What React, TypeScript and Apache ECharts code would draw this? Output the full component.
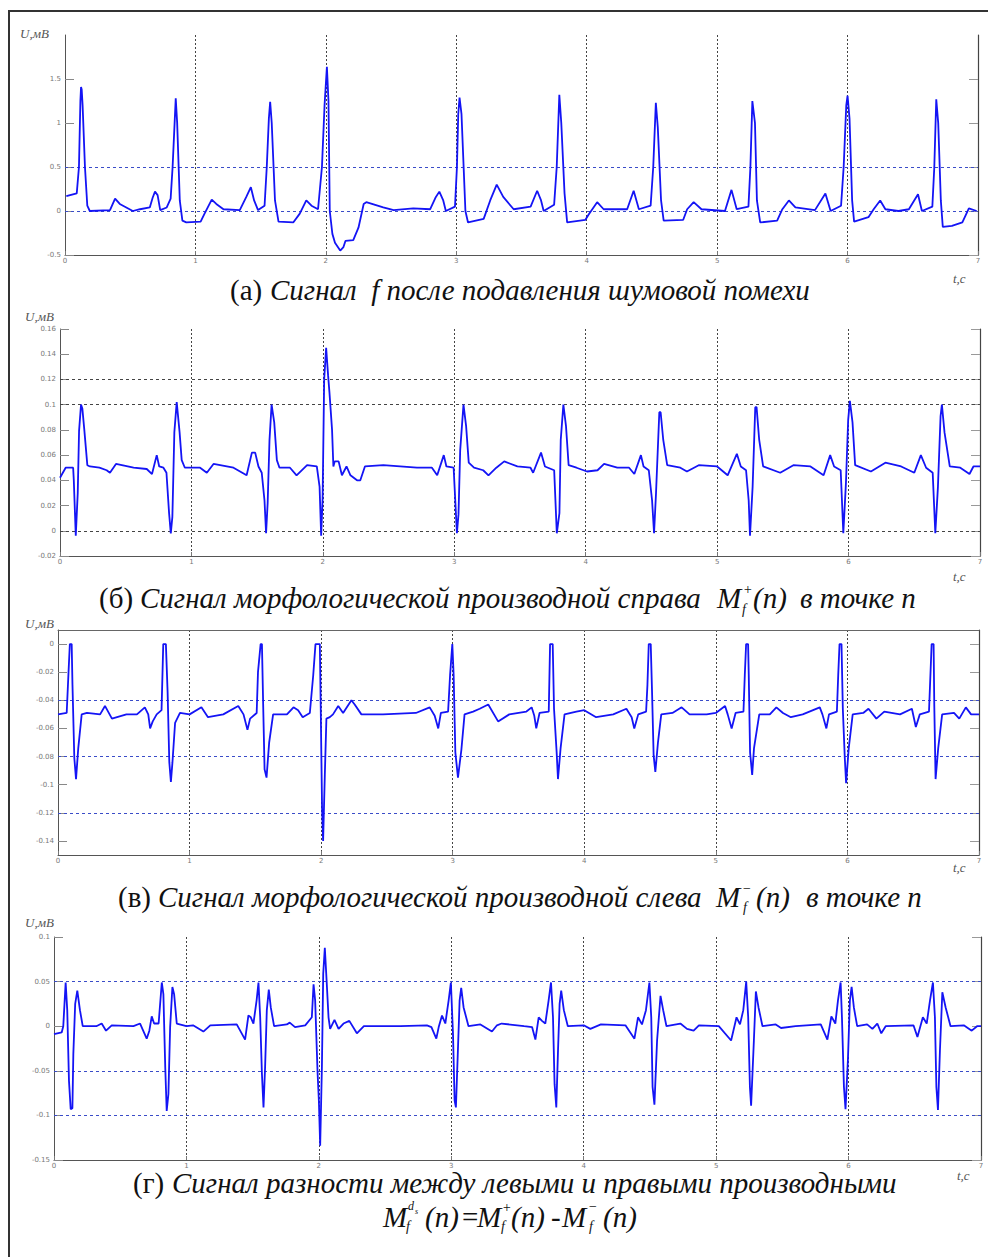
import React, { useEffect, useRef } from "react";
import * as echarts from "echarts";

// ---------- DATA ----------
const xTicks = [0, 1, 2, 3, 4, 5, 6, 7];

// (а) signal f after noise suppression, mV
const sigF: number[][] = [
  [0.01,0.17],[0.09,0.2],[0.107,0.5],[0.118,1.25],[0.123,1.41],[0.128,1.38],[0.135,1.2],[0.153,0.5],[0.171,0.06],[0.19,0.0],
  [0.345,0.01],[0.384,0.14],[0.42,0.08],[0.52,0.0],[0.575,0.02],[0.65,0.04],[0.672,0.15],[0.69,0.22],[0.71,0.18],[0.73,0.01],
  [0.78,0.04],[0.81,0.14],[0.825,0.5],[0.849,1.28],[0.86,1.0],[0.88,0.12],[0.9,-0.11],[0.93,-0.13],[1.04,-0.12],[1.07,-0.03],
  [1.125,0.13],[1.16,0.08],[1.215,0.02],[1.34,0.01],[1.39,0.16],[1.425,0.27],[1.45,0.12],[1.48,0.01],[1.53,0.06],[1.547,0.5],
  [1.563,1.05],[1.573,1.24],[1.585,1.0],[1.61,0.12],[1.637,-0.12],[1.75,-0.13],[1.8,-0.03],[1.85,0.12],[1.89,0.06],[1.94,0.02],
  [1.97,0.5],[1.99,1.2],[2.008,1.64],[2.02,1.25],[2.03,0.0],[2.05,-0.26],[2.07,-0.36],[2.11,-0.45],[2.135,-0.41],[2.15,-0.34],
  [2.21,-0.33],[2.25,-0.19],[2.29,0.08],[2.31,0.1],[2.44,0.04],[2.52,0.01],[2.67,0.03],[2.8,0.02],[2.84,0.15],[2.87,0.22],
  [2.9,0.12],[2.92,0.0],[2.99,0.05],[3.005,0.5],[3.015,1.1],[3.025,1.29],[3.04,1.1],[3.07,0.0],[3.09,-0.13],[3.21,-0.09],
  [3.26,0.12],[3.31,0.3],[3.36,0.16],[3.44,0.02],[3.57,0.05],[3.62,0.23],[3.65,0.12],[3.67,0.0],[3.75,0.07],[3.77,0.5],
  [3.79,1.32],[3.805,1.0],[3.83,0.2],[3.85,-0.13],[3.99,-0.1],[4.015,-0.04],[4.08,0.1],[4.13,0.02],[4.31,0.02],[4.36,0.23],
  [4.4,0.02],[4.49,0.06],[4.51,0.5],[4.53,1.23],[4.545,0.95],[4.57,0.12],[4.59,-0.11],[4.74,-0.1],[4.77,0.02],[4.82,0.1],
  [4.88,0.02],[5.06,0.0],[5.11,0.24],[5.15,0.02],[5.24,0.05],[5.255,0.5],[5.27,1.25],[5.29,1.0],[5.305,0.12],[5.33,-0.13],
  [5.46,-0.11],[5.5,0.02],[5.55,0.12],[5.6,0.04],[5.75,0.01],[5.83,0.2],[5.87,0.0],[5.95,0.06],[5.97,0.5],[5.99,1.2],
  [6.0,1.31],[6.015,1.05],[6.035,0.12],[6.05,-0.12],[6.16,-0.07],[6.2,0.02],[6.25,0.12],[6.29,0.02],[6.39,0.0],[6.47,0.02],
  [6.54,0.19],[6.57,0.0],[6.65,0.05],[6.665,0.5],[6.68,1.27],[6.695,1.0],[6.715,0.12],[6.73,-0.18],[6.8,-0.17],[6.88,-0.13],
  [6.93,0.03],[6.99,0.0],
];

// (б) right morphological derivative M+
const sigMplus: number[][] = [
  [0,0.042],[0.043,0.05],[0.1,0.05],[0.105,0.04],[0.12,-0.004],[0.135,0.03],[0.145,0.079],[0.16,0.1],[0.17,0.097],[0.185,0.08],
  [0.208,0.052],[0.228,0.051],[0.3,0.05],[0.355,0.048],[0.38,0.046],[0.426,0.053],[0.56,0.05],[0.66,0.049],[0.7,0.045],[0.736,0.06],
  [0.755,0.051],[0.787,0.05],[0.81,0.046],[0.83,0.014],[0.843,-0.002],[0.855,0.011],[0.87,0.078],[0.888,0.102],[0.91,0.078],[0.926,0.056],
  [0.95,0.05],[1.066,0.05],[1.117,0.046],[1.168,0.053],[1.32,0.05],[1.42,0.044],[1.46,0.062],[1.485,0.062],[1.51,0.051],[1.535,0.046],
  [1.556,0.024],[1.568,-0.002],[1.58,0.022],[1.594,0.072],[1.61,0.1],[1.63,0.086],[1.65,0.056],[1.67,0.05],[1.75,0.05],[1.8,0.044],
  [1.88,0.052],[1.954,0.051],[1.975,0.035],[1.987,-0.004],[1.998,0.025],[2.01,0.12],[2.025,0.145],[2.04,0.123],[2.05,0.11],[2.07,0.08],
  [2.08,0.051],[2.09,0.055],[2.12,0.055],[2.145,0.044],[2.18,0.051],[2.21,0.044],[2.26,0.04],[2.285,0.04],[2.32,0.051],[2.46,0.052],
  [2.716,0.05],[2.83,0.05],[2.87,0.044],[2.92,0.06],[2.94,0.051],[2.995,0.05],[3.007,0.025],[3.02,-0.002],[3.032,0.013],[3.045,0.064],
  [3.07,0.1],[3.09,0.083],[3.11,0.054],[3.15,0.05],[3.22,0.048],[3.26,0.044],[3.32,0.05],[3.38,0.055],[3.48,0.051],[3.58,0.05],
  [3.6,0.046],[3.66,0.062],[3.69,0.051],[3.76,0.048],[3.78,-0.002],[3.8,0.014],[3.81,0.072],[3.83,0.1],[3.85,0.083],[3.87,0.052],
  [3.93,0.05],[4.01,0.047],[4.09,0.048],[4.14,0.053],[4.24,0.05],[4.33,0.05],[4.37,0.045],[4.42,0.06],[4.44,0.051],[4.48,0.048],
  [4.505,0.024],[4.52,-0.002],[4.535,0.03],[4.56,0.094],[4.57,0.094],[4.59,0.072],[4.62,0.052],[4.72,0.05],[4.77,0.047],[4.86,0.052],
  [5.0,0.051],[5.08,0.044],[5.15,0.061],[5.18,0.051],[5.22,0.048],[5.24,0.024],[5.25,-0.004],[5.27,0.035],[5.29,0.098],[5.3,0.098],
  [5.32,0.072],[5.35,0.051],[5.48,0.046],[5.58,0.052],[5.71,0.051],[5.81,0.044],[5.86,0.06],[5.89,0.051],[5.94,0.048],[5.96,-0.002],
  [5.98,0.038],[5.997,0.088],[6.01,0.103],[6.03,0.086],[6.05,0.052],[6.17,0.047],[6.28,0.054],[6.4,0.051],[6.5,0.046],[6.55,0.06],
  [6.59,0.05],[6.64,0.046],[6.66,-0.002],[6.68,0.035],[6.7,0.091],[6.71,0.1],[6.73,0.078],[6.77,0.051],[6.85,0.05],[6.92,0.045],
  [6.95,0.051],[7.0,0.051],
];

// (в) left morphological derivative M-
const sigMminus: number[][] = [
  [0,-0.05],[0.066,-0.049],[0.08,-0.02],[0.09,0],[0.104,0],[0.11,-0.029],[0.124,-0.081],[0.137,-0.096],[0.154,-0.074],[0.18,-0.05],
  [0.22,-0.049],[0.32,-0.05],[0.357,-0.044],[0.41,-0.053],[0.52,-0.05],[0.6,-0.05],[0.66,-0.045],[0.686,-0.05],[0.7,-0.06],[0.72,-0.055],
  [0.75,-0.05],[0.787,-0.047],[0.8,0],[0.82,0],[0.833,-0.034],[0.846,-0.084],[0.858,-0.098],[0.87,-0.084],[0.89,-0.056],[0.927,-0.049],
  [1.0,-0.05],[1.09,-0.045],[1.14,-0.052],[1.256,-0.05],[1.37,-0.044],[1.41,-0.05],[1.44,-0.061],[1.46,-0.053],[1.51,-0.049],[1.52,-0.02],
  [1.54,0],[1.55,0],[1.56,-0.046],[1.57,-0.089],[1.585,-0.095],[1.605,-0.07],[1.635,-0.05],[1.74,-0.05],[1.79,-0.045],[1.825,-0.047],
  [1.86,-0.052],[1.914,-0.049],[1.94,-0.022],[1.957,0],[1.99,0],[1.997,-0.046],[2.007,-0.117],[2.015,-0.14],[2.028,-0.093],[2.04,-0.053],
  [2.066,-0.052],[2.09,-0.05],[2.13,-0.044],[2.167,-0.049],[2.23,-0.04],[2.255,-0.043],[2.306,-0.05],[2.47,-0.05],[2.72,-0.049],[2.825,-0.045],
  [2.863,-0.051],[2.89,-0.06],[2.91,-0.049],[2.965,-0.048],[2.98,-0.022],[2.997,0],[3.007,-0.022],[3.02,-0.077],[3.04,-0.095],[3.066,-0.075],
  [3.09,-0.05],[3.155,-0.048],[3.205,-0.046],[3.27,-0.043],[3.345,-0.055],[3.43,-0.05],[3.56,-0.048],[3.6,-0.045],[3.62,-0.051],[3.635,-0.06],
  [3.66,-0.049],[3.73,-0.048],[3.74,0],[3.76,0],[3.77,-0.046],[3.79,-0.077],[3.8,-0.096],[3.82,-0.074],[3.85,-0.05],[3.94,-0.048],
  [4.0,-0.047],[4.09,-0.052],[4.22,-0.05],[4.32,-0.046],[4.36,-0.052],[4.38,-0.06],[4.41,-0.05],[4.47,-0.048],[4.48,-0.029],[4.49,0],
  [4.505,0],[4.515,-0.034],[4.527,-0.079],[4.54,-0.091],[4.56,-0.07],[4.585,-0.05],[4.67,-0.049],[4.74,-0.045],[4.8,-0.05],[4.93,-0.05],
  [5.0,-0.049],[5.07,-0.044],[5.09,-0.05],[5.12,-0.06],[5.15,-0.049],[5.21,-0.048],[5.22,-0.022],[5.23,0],[5.245,0],[5.25,-0.022],
  [5.26,-0.077],[5.276,-0.093],[5.29,-0.074],[5.33,-0.05],[5.41,-0.05],[5.46,-0.045],[5.51,-0.049],[5.57,-0.052],[5.66,-0.05],[5.79,-0.045],
  [5.81,-0.05],[5.84,-0.06],[5.86,-0.05],[5.92,-0.048],[5.93,-0.022],[5.94,0],[5.955,0],[5.965,-0.046],[5.98,-0.081],[5.99,-0.099],
  [6.01,-0.074],[6.04,-0.05],[6.12,-0.049],[6.16,-0.046],[6.22,-0.053],[6.28,-0.048],[6.4,-0.05],[6.49,-0.046],[6.52,-0.059],[6.55,-0.05],
  [6.62,-0.048],[6.64,0],[6.655,0],[6.66,-0.043],[6.67,-0.096],[6.69,-0.074],[6.72,-0.05],[6.81,-0.049],[6.85,-0.053],[6.9,-0.045],
  [6.94,-0.05],[7.0,-0.05],
];

// (г) difference between left and right derivatives
const sigMd: number[][] = [
  [0,-0.009],[0.058,-0.007],[0.07,0],[0.088,0.049],[0.1,0.018],[0.113,-0.061],[0.126,-0.093],[0.139,-0.092],[0.146,-0.031],[0.16,0.025],
  [0.176,0.04],[0.196,0.018],[0.217,0],[0.32,0],[0.36,0.003],[0.393,-0.005],[0.436,0.001],[0.6,0],[0.65,0.003],[0.7,-0.014],
  [0.72,-0.005],[0.738,0.011],[0.756,0.003],[0.79,0.003],[0.814,0.049],[0.826,0.036],[0.84,-0.046],[0.851,-0.095],[0.864,-0.076],[0.877,-0.001],
  [0.894,0.044],[0.907,0.036],[0.927,0.003],[1.0,0],[1.05,0.001],[1.128,-0.006],[1.18,0.001],[1.38,0.002],[1.443,-0.015],[1.468,0.012],
  [1.486,0.01],[1.506,0.003],[1.53,0.029],[1.544,0.049],[1.557,0.01],[1.57,-0.053],[1.582,-0.091],[1.594,-0.046],[1.607,0.018],[1.622,0.041],
  [1.637,0.021],[1.662,0],[1.758,0.002],[1.78,0.004],[1.82,-0.001],[1.897,0.001],[1.947,0.01],[1.96,0.047],[1.972,0.029],[1.99,-0.051],
  [2.0,-0.083],[2.01,-0.134],[2.023,-0.046],[2.033,0.059],[2.045,0.088],[2.06,0.047],[2.073,0.01],[2.085,-0.003],[2.118,0.007],[2.149,-0.003],
  [2.186,0.003],[2.23,0.006],[2.287,-0.008],[2.34,0],[2.615,0],[2.816,0.001],[2.85,-0.001],[2.887,-0.014],[2.905,-0.001],[2.93,0.012],
  [2.955,0.003],[2.98,0.029],[2.997,0.049],[3.013,-0.009],[3.025,-0.083],[3.035,-0.091],[3.05,-0.027],[3.063,0.029],[3.075,0.043],[3.093,0.021],
  [3.13,0],[3.22,0.002],[3.307,-0.006],[3.345,0.001],[3.38,0.003],[3.55,0],[3.61,-0.001],[3.635,-0.015],[3.66,0.01],[3.685,0.006],
  [3.71,0.003],[3.735,0.029],[3.753,0.049],[3.768,0.01],[3.78,-0.065],[3.793,-0.091],[3.806,-0.027],[3.818,0.025],[3.83,0.04],[3.85,0.018],
  [3.88,0],[4.0,0.001],[4.05,-0.003],[4.13,0.002],[4.315,0.001],[4.383,-0.014],[4.41,0.01],[4.44,0.002],[4.47,0.018],[4.496,0.049],
  [4.51,0.01],[4.52,-0.068],[4.534,-0.088],[4.554,-0.016],[4.58,0.034],[4.6,0.018],[4.625,0],[4.73,0.003],[4.78,-0.003],[4.83,-0.005],
  [4.87,0.001],[5.02,0],[5.113,-0.016],[5.154,0.01],[5.18,0.002],[5.205,0.018],[5.227,0.05],[5.242,0.01],[5.255,-0.068],[5.264,-0.089],
  [5.285,-0.016],[5.3,0.039],[5.32,0.021],[5.35,0],[5.45,0.002],[5.49,-0.002],[5.6,0],[5.79,0.002],[5.84,-0.015],[5.87,0.011],
  [5.9,0.003],[5.92,0.029],[5.94,0.049],[5.95,0.01],[5.965,-0.068],[5.977,-0.093],[5.995,-0.038],[6.01,0.029],[6.023,0.044],[6.04,0.021],
  [6.065,0],[6.14,0.002],[6.18,-0.003],[6.217,0.003],[6.247,-0.008],[6.28,0],[6.49,0.001],[6.52,-0.012],[6.561,0.01],[6.59,0.003],
  [6.615,0.029],[6.637,0.049],[6.652,0.01],[6.663,-0.068],[6.675,-0.094],[6.69,-0.027],[6.708,0.038],[6.733,0.021],[6.77,0],[6.87,0.001],
  [6.93,-0.005],[6.97,0],[7.0,0],
];

const yTicksA = [-0.5, 0, 0.5, 1, 1.5];
const yTicksB = [-0.02, 0, 0.02, 0.04, 0.06, 0.08, 0.1, 0.12, 0.14, 0.16];
const yTicksC = [0, -0.02, -0.04, -0.06, -0.08, -0.1, -0.12, -0.14];
const yTicksD = [0.1, 0.05, 0, -0.05, -0.1, -0.15];

const hGridA = [0, 0.5];
const hGridB = [0, 0.1, 0.12];
const hGridC = [-0.04, -0.08, -0.12];
const hGridD = [0.05, -0.05, -0.1];

const titleA = "Сигнал  f после подавления шумовой помехи";
const titleB = "Сигнал морфологической производной справа";
const titleC = "Сигнал морфологической производной слева";
const titleD = "Сигнал разности между левыми и правыми производными";

// ---------- LAYOUT ----------
const SERIF = "Liberation Serif";
const LINE_COLOR = "#1414f5";

const panels = [
  { grid: { left: 65, top: 35, width: 913, height: 220 }, data: sigF, min: -0.5, max: 2, ticks: yTicksA, hGrid: hGridA, hColor: "#3a4cc8", topLine: false },
  { grid: { left: 60, top: 329, width: 920, height: 227 }, data: sigMplus, min: -0.02, max: 0.16, ticks: yTicksB, hGrid: hGridB, hColor: "#444", topLine: false },
  { grid: { left: 58, top: 630, width: 921, height: 225 }, data: sigMminus, min: -0.15, max: 0.01, ticks: yTicksC, hGrid: hGridC, hColor: "#3a4cc8", topLine: true },
  { grid: { left: 54, top: 937, width: 927, height: 223 }, data: sigMd, min: -0.15, max: 0.1, ticks: yTicksD, hGrid: hGridD, hColor: "#3a4cc8", topLine: false },
];

const fmt = (v: number) => String(parseFloat(Number(v).toFixed(3)));

function txt(text: string, x: number, y: number, size: number, opts: any = {}) {
  return {
    type: "text",
    silent: true,
    style: {
      text,
      x,
      y,
      fontSize: size,
      fontFamily: opts.family || SERIF,
      fontStyle: opts.italic === false ? "normal" : "italic",
      fill: opts.color || "#111",
      textAlign: opts.align || "left",
      textVerticalAlign: "middle",
      align: opts.align || "left",
      verticalAlign: "middle",
    },
  };
}

function buildOption() {
  const grids: any[] = [];
  const xAxes: any[] = [];
  const yAxes: any[] = [];
  const series: any[] = [];

  panels.forEach((p, i) => {
    grids.push({ ...p.grid, containLabel: false });
    xAxes.push({
      type: "value",
      gridIndex: i,
      min: 0,
      max: 7,
      interval: 1,
      position: "bottom",
      axisLine: { show: true, onZero: false, lineStyle: { color: "#555", width: 1 } },
      axisTick: { show: true, inside: true, length: 4, lineStyle: { color: "#777" } },
      axisLabel: { show: true, fontSize: 7, color: "#777", margin: 2, fontFamily: "DejaVu Sans", customValues: xTicks },
      splitLine: { show: true, lineStyle: { color: "#444", type: [2, 2], width: 1 } },
    });
    if (p.topLine) {
      xAxes.push({
        type: "value",
        gridIndex: i,
        min: 0,
        max: 7,
        position: "top",
        axisLine: { show: true, onZero: false, lineStyle: { color: "#666", width: 1 } },
        axisTick: { show: false },
        axisLabel: { show: false },
        splitLine: { show: false },
      });
    }
    yAxes.push({
      type: "value",
      gridIndex: i,
      min: p.min,
      max: p.max,
      position: "left",
      axisLine: { show: true, onZero: false, lineStyle: { color: "#555", width: 1 } },
      axisTick: { show: true, inside: true, length: 9, customValues: p.ticks, lineStyle: { color: "#888" } },
      axisLabel: { show: true, fontSize: 7, color: "#777", margin: 4, fontFamily: "DejaVu Sans", customValues: p.ticks, formatter: (v: number) => fmt(v) },
      splitLine: { show: false },
    });
    yAxes.push({
      type: "value",
      gridIndex: i,
      min: p.min,
      max: p.max,
      position: "right",
      axisLine: { show: true, onZero: false, lineStyle: { color: "#444", width: 1.2 } },
      axisTick: { show: true, inside: true, length: 9, customValues: p.ticks, lineStyle: { color: "#999" } },
      axisLabel: { show: false },
      splitLine: { show: false },
    });
  });

  let xi = 0;
  panels.forEach((p, i) => {
    series.push({
      type: "line",
      xAxisIndex: xi,
      yAxisIndex: i * 2,
      data: p.data,
      showSymbol: false,
      symbol: "none",
      lineStyle: { color: LINE_COLOR, width: 1.8 },
      z: 5,
      markLine: {
        silent: true,
        symbol: ["none", "none"],
        label: { show: false },
        lineStyle: { color: p.hColor, type: [3, 3], width: 1 },
        data: p.hGrid.map((v) => ({ yAxis: v })),
        z: 2,
      },
    });
    xi += p.topLine ? 2 : 1;
  });

  const T = 29;
  const S = 14;
  const graphics: any[] = [
    { type: "rect", silent: true, shape: { x: 9, y: 11, width: 990, height: 1260 }, style: { fill: "none", stroke: "#333", lineWidth: 2 } },
    // axis names
    txt("U,мВ", 20, 33, 13, { color: "#555" }),
    txt("U,мВ", 25, 316, 13, { color: "#555" }),
    txt("U,мВ", 25, 623, 13, { color: "#555" }),
    txt("U,мВ", 25, 922, 13, { color: "#555" }),
    txt("t,c", 953, 278, 13, { color: "#555" }),
    txt("t,c", 953, 576, 13, { color: "#555" }),
    txt("t,c", 953, 867, 13, { color: "#555" }),
    txt("t,c", 957, 1175, 13, { color: "#555" }),
    // (а)
    txt("(а)", 230, 290, T, { italic: false }),
    txt(titleA, 270, 290, T),
    // (б)
    txt("(б)", 99, 598, T, { italic: false }),
    txt(titleB, 140, 598, T),
    txt("M", 717, 598, T),
    txt("+", 743, 589, S),
    txt("f", 742, 609, S),
    txt("(n)", 753, 598, T),
    txt("в точке n", 800, 598, T),
    // (в)
    txt("(в)", 118, 897, T, { italic: false }),
    txt(titleC, 158, 897, T),
    txt("M", 716, 897, T),
    txt("−", 742, 888, S),
    txt("f", 743, 907, S),
    txt("(n)", 756, 897, T),
    txt("в точке n", 806, 897, T),
    // (г)
    txt("(г)", 133, 1183, T, { italic: false }),
    txt(titleD, 172, 1183, T),
    txt("M", 383, 1217, T),
    txt("d", 408, 1206, 12),
    txt("s", 415, 1211, 8),
    txt("f", 406, 1226, S),
    txt("(n)", 425, 1217, T),
    txt("=", 462, 1217, T, { italic: false }),
    txt("M", 477, 1217, T),
    txt("+", 502, 1207, S),
    txt("f", 501, 1226, S),
    txt("(n)", 511, 1217, T),
    txt("-", 551, 1217, T, { italic: false }),
    txt("M", 562, 1217, T),
    txt("−", 588, 1206, S),
    txt("f", 589, 1226, S),
    txt("(n)", 603, 1217, T),
  ];

  return {
    animation: false,
    backgroundColor: "#ffffff",
    grid: grids,
    xAxis: xAxes,
    yAxis: yAxes,
    series,
    graphic: graphics,
  };
}

export default function App() {
  const ref = useRef<HTMLDivElement>(null);
  useEffect(() => {
    if (!ref.current) return;
    const chart = echarts.init(ref.current, null, { renderer: "svg" });
    chart.setOption(buildOption() as any);
    return () => chart.dispose();
  }, []);
  return (
    <div
      ref={ref}
      style={{ position: "absolute", left: 0, top: 0, width: 988, height: 1257, background: "#fff" }}
    />
  );
}
